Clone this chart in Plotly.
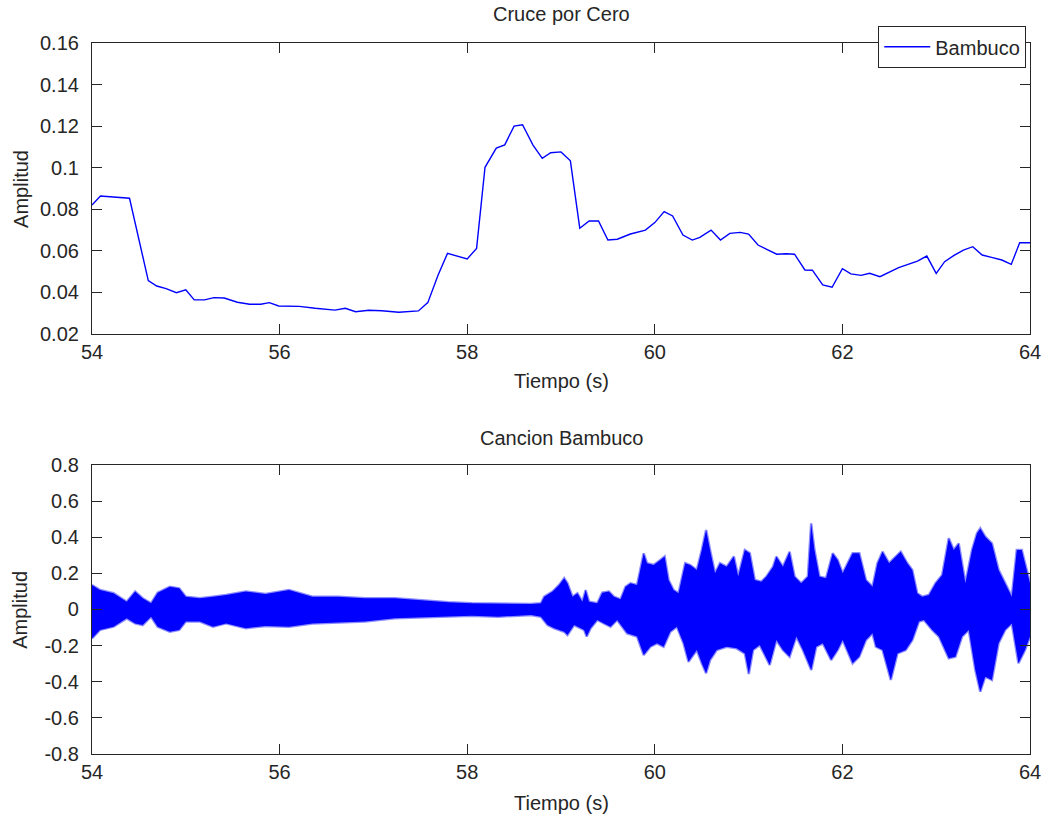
import plotly.graph_objects as go
from plotly.subplots import make_subplots

# ---- Zero-crossing rate (top) ----
zc_time = [54.0, 54.09, 54.40, 54.60, 54.69, 54.79, 54.90, 55.0, 55.09, 55.20, 55.30, 55.41,
           55.55, 55.68, 55.80, 55.89, 55.99, 56.21, 56.38, 56.59, 56.70, 56.81, 56.95, 57.09,
           57.27, 57.48, 57.58, 57.69, 57.79, 58.0, 58.10, 58.19, 58.31, 58.40, 58.50, 58.59,
           58.70, 58.80, 58.89, 59.0, 59.10, 59.20, 59.30, 59.40, 59.50, 59.60, 59.74, 59.90,
           60.0, 60.10, 60.19, 60.30, 60.40, 60.48, 60.60, 60.70, 60.80, 60.91, 61.0, 61.10,
           61.21, 61.30, 61.40, 61.49, 61.60, 61.68, 61.79, 61.89, 62.0, 62.09, 62.20, 62.29,
           62.40, 62.60, 62.80, 62.90, 63.0, 63.09, 63.19, 63.29, 63.39, 63.49, 63.59, 63.70,
           63.80, 63.89, 64.0]
zc_value = [0.0821, 0.0864, 0.0853, 0.0457, 0.0431, 0.0418, 0.0399, 0.0413, 0.0364, 0.0364,
            0.0375, 0.0373, 0.0353, 0.0343, 0.0343, 0.0351, 0.0335, 0.0333, 0.0324, 0.0315,
            0.0324, 0.0307, 0.0314, 0.0312, 0.0305, 0.0311, 0.0351, 0.0484, 0.0588, 0.0561,
            0.0612, 0.1002, 0.1094, 0.1110, 0.1200, 0.1207, 0.1110, 0.1045, 0.1072, 0.1076,
            0.1033, 0.0709, 0.0744, 0.0744, 0.0652, 0.0656, 0.0681, 0.0700, 0.0736, 0.0789,
            0.0768, 0.0676, 0.0652, 0.0665, 0.0700, 0.0652, 0.0684, 0.0689, 0.0681, 0.0628,
            0.0604, 0.0584, 0.0586, 0.0584, 0.0508, 0.0507, 0.0436, 0.0425, 0.0514, 0.0489,
            0.0482, 0.0492, 0.0476, 0.0519, 0.0551, 0.0575, 0.0492, 0.0548, 0.0578, 0.0604,
            0.0620, 0.0580, 0.0569, 0.0556, 0.0535, 0.0639, 0.0639]

# ---- Audio waveform envelope (bottom): upper and lower peaks ----
upper_time = [54.0, 54.085, 54.23, 54.37, 54.46, 54.54, 54.63, 54.70, 54.83, 54.93, 55.0, 55.15,
              55.29, 55.43, 55.64, 55.85, 56.10, 56.35, 56.63, 56.91, 57.23, 57.5, 57.8, 58.05,
              58.33, 58.54, 58.68,
              58.786, 58.821, 58.910, 58.980, 59.034, 59.069, 59.122, 59.175, 59.228, 59.263,
              59.299, 59.387, 59.440, 59.511, 59.564, 59.635, 59.688, 59.741, 59.811, 59.882,
              59.917, 59.988, 60.059, 60.105, 60.147, 60.200, 60.253, 60.324, 60.377, 60.448,
              60.501, 60.547, 60.589, 60.642, 60.695, 60.766, 60.843, 60.889, 60.960, 61.013,
              61.066, 61.137, 61.190, 61.261,
              61.296, 61.366, 61.437, 61.490, 61.561, 61.632, 61.667, 61.702, 61.755, 61.826,
              61.897, 61.950, 62.003, 62.109, 62.180, 62.251, 62.321, 62.374, 62.428, 62.498,
              62.569, 62.622, 62.692, 62.745, 62.798, 62.851, 62.922, 62.993, 63.064, 63.134,
              63.187, 63.240, 63.311, 63.382, 63.435, 63.470, 63.523, 63.594, 63.665, 63.735,
              63.806, 63.859, 63.912, 64.0]
upper_value = [0.135, 0.108, 0.090, 0.043, 0.099, 0.062, 0.034, 0.093, 0.126, 0.117, 0.071, 0.062,
               0.071, 0.080, 0.099, 0.086, 0.108, 0.071, 0.071, 0.062, 0.062, 0.050, 0.040, 0.035,
               0.034, 0.034, 0.030,
               0.034, 0.071, 0.099, 0.136, 0.173, 0.145, 0.071, 0.090, 0.043, 0.108,
               0.043, 0.034, 0.093, 0.099, 0.071, 0.056, 0.126, 0.145, 0.136, 0.311,
               0.256, 0.246, 0.274, 0.293, 0.163, 0.108, 0.090, 0.256, 0.246, 0.219,
               0.329, 0.440, 0.329, 0.200, 0.256, 0.237, 0.293, 0.182, 0.329, 0.311,
               0.163, 0.154, 0.182, 0.237,
               0.293, 0.237, 0.320, 0.182, 0.145, 0.182, 0.477, 0.329, 0.182, 0.173,
               0.311, 0.274, 0.200, 0.311, 0.311, 0.163, 0.126, 0.256, 0.320, 0.256,
               0.293, 0.320, 0.256, 0.219, 0.090, 0.071, 0.080, 0.145, 0.191, 0.394,
               0.329, 0.366, 0.145, 0.329, 0.422, 0.449, 0.403, 0.366, 0.219, 0.145,
               0.071, 0.329, 0.329, 0.145]

lower_time = [54.0, 54.085, 54.23, 54.37, 54.46, 54.54, 54.63, 54.70, 54.83, 54.93, 55.0, 55.15,
              55.29, 55.43, 55.64, 55.85, 56.10, 56.35, 56.63, 56.91, 57.23, 57.5, 57.8, 58.05,
              58.33, 58.54, 58.68,
              58.786, 58.857, 58.928, 59.034, 59.069, 59.140, 59.246, 59.274, 59.316, 59.387,
              59.458, 59.528, 59.599, 59.705, 59.811, 59.882, 59.953, 60.023, 60.094, 60.165,
              60.235, 60.306, 60.359, 60.448, 60.501, 60.547, 60.589, 60.660, 60.766, 60.872,
              60.960, 61.002, 61.048, 61.119, 61.225,
              61.296, 61.366, 61.437, 61.509, 61.579, 61.668, 61.721, 61.791, 61.880, 61.950,
              62.003, 62.109, 62.180, 62.251, 62.321, 62.357, 62.428, 62.516, 62.587, 62.675,
              62.746, 62.816, 62.869, 62.958, 63.029, 63.134, 63.205, 63.276, 63.347, 63.417,
              63.470, 63.523, 63.594, 63.665, 63.735, 63.806, 63.877, 63.947, 64.0]
lower_value = [-0.160, -0.113, -0.095, -0.049, -0.077, -0.086, -0.040, -0.095, -0.123, -0.113,
               -0.067, -0.067, -0.095, -0.077, -0.104, -0.091, -0.095, -0.077, -0.073, -0.067,
               -0.049, -0.045, -0.040, -0.035, -0.040, -0.034, -0.030,
               -0.040, -0.086, -0.104, -0.123, -0.141, -0.086, -0.113, -0.150, -0.104, -0.058,
               -0.077, -0.095, -0.058, -0.132, -0.150, -0.252, -0.206, -0.187, -0.206, -0.123,
               -0.095, -0.187, -0.289, -0.224, -0.298, -0.353, -0.280, -0.224, -0.206, -0.215,
               -0.243, -0.357, -0.224, -0.197, -0.307,
               -0.169, -0.224, -0.261, -0.150, -0.224, -0.335, -0.206, -0.187, -0.280, -0.224,
               -0.169, -0.298, -0.261, -0.169, -0.132, -0.206, -0.224, -0.390, -0.243, -0.224,
               -0.169, -0.067, -0.058, -0.113, -0.150, -0.270, -0.261, -0.150, -0.113, -0.335,
               -0.455, -0.372, -0.390, -0.187, -0.113, -0.077, -0.298, -0.224, -0.150]

x_ticks = [54, 56, 58, 60, 62, 64]
x_tick_labels = ["54", "56", "58", "60", "62", "64"]
y1_ticks = [0.02, 0.04, 0.06, 0.08, 0.10, 0.12, 0.14, 0.16]
y1_tick_labels = ["0.02", "0.04", "0.06", "0.08", "0.1", "0.12", "0.14", "0.16"]
y2_ticks = [-0.8, -0.6, -0.4, -0.2, 0, 0.2, 0.4, 0.6, 0.8]
y2_tick_labels = ["-0.8", "-0.6", "-0.4", "-0.2", "0", "0.2", "0.4", "0.6", "0.8"]

FONT = "Liberation Sans, Arial, sans-serif"
TXT = "#262626"
FS = 20

fig = make_subplots(rows=2, cols=1, vertical_spacing=0.0)

fig.add_trace(go.Scatter(x=zc_time, y=zc_value, mode="lines", name="Bambuco",
                         line=dict(color="#0000ff", width=1.4)), row=1, col=1)

fig.add_trace(go.Scatter(x=upper_time + lower_time[::-1], y=upper_value + lower_value[::-1],
                         mode="lines", fill="toself", fillcolor="#0000ff",
                         line=dict(color="rgba(0,0,255,0.45)", width=2.5), showlegend=False),
              row=2, col=1)

axis_common = dict(showline=True, linecolor=TXT, linewidth=1.2, mirror="ticks",
                   ticks="inside", ticklen=10, tickwidth=1.2, tickcolor=TXT,
                   showgrid=False, zeroline=False,
                   tickfont=dict(family=FONT, size=FS, color=TXT))

fig.update_xaxes(**axis_common, range=[54, 64], tickvals=x_ticks, ticktext=x_tick_labels)
fig.update_yaxes(**axis_common, ticklabelstandoff=8)
fig.update_yaxes(range=[0.02, 0.16], tickvals=y1_ticks, ticktext=y1_tick_labels, row=1, col=1)
fig.update_yaxes(range=[-0.8, 0.8], tickvals=y2_ticks, ticktext=y2_tick_labels, row=2, col=1)

fig.layout.yaxis.domain = [0.5907, 1.0]
fig.layout.yaxis2.domain = [0.0, 0.4065]

labels = [
    dict(text="Cruce por Cero", x=0.5, y=1.0408, textangle=0),
    dict(text="Cancion Bambuco", x=0.5, y=0.4444, textangle=0),
    dict(text="Tiempo (s)", x=0.5, y=0.5246, textangle=0),
    dict(text="Tiempo (s)", x=0.5, y=-0.0689, textangle=0),
    dict(text="Amplitud", x=-0.0764, y=0.7953, textangle=-90),
    dict(text="Amplitud", x=-0.0764, y=0.2033, textangle=-90),
]
for lb in labels:
    fig.add_annotation(text=lb["text"], xref="paper", yref="paper", x=lb["x"], y=lb["y"],
                       xanchor="center", yanchor="middle", textangle=lb["textangle"],
                       showarrow=False, font=dict(family=FONT, size=FS, color=TXT))

fig.update_layout(
    width=1053, height=817,
    margin=dict(l=92, r=19, t=43, b=63),
    paper_bgcolor="white", plot_bgcolor="white",
    font=dict(family=FONT, size=FS, color=TXT),
    legend=dict(x=0.9958, y=1.0239, xanchor="right", yanchor="top",
                bordercolor=TXT, borderwidth=1.2, bgcolor="white",
                font=dict(family=FONT, size=FS, color=TXT),
                tracegroupgap=0, itemwidth=46, entrywidth=108, entrywidthmode="pixels"),
)

fig.write_html("out.html", config={"displayModeBar": False},
               post_script="document.body.style.margin='0';")
